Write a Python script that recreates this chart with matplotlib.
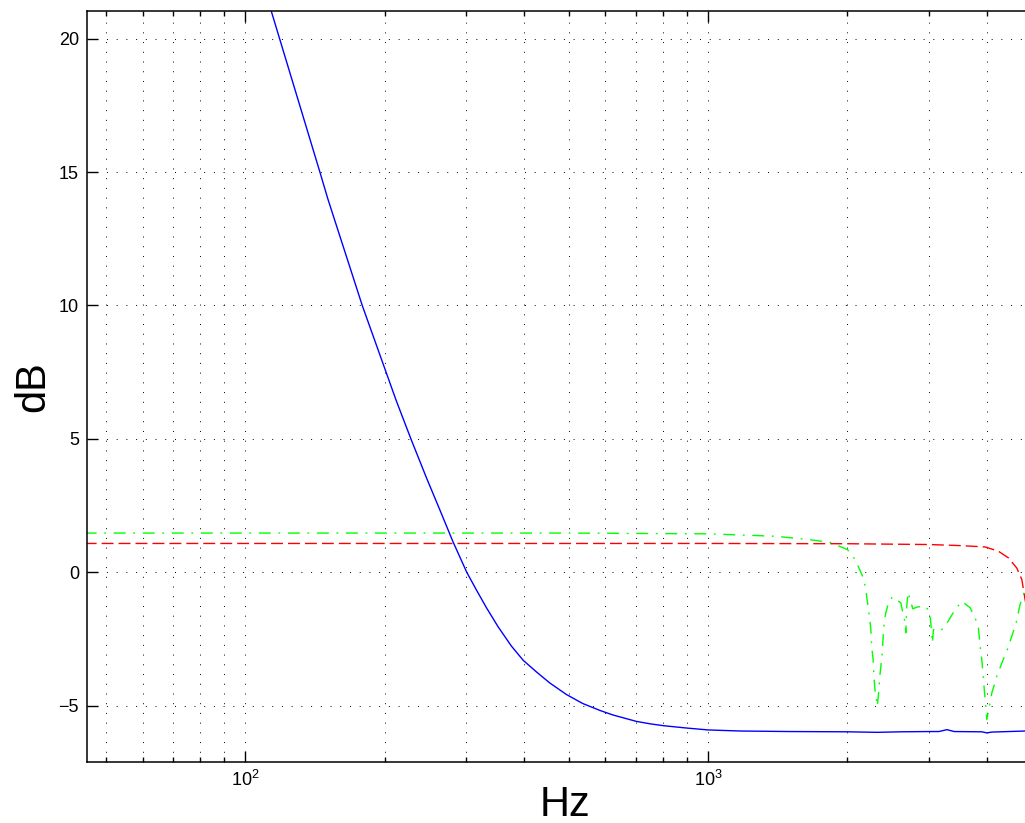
#!/usr/bin/env python3
# -*- coding: utf-8 -*-

import numpy as np
import matplotlib
matplotlib.use("Agg")
import matplotlib.pyplot as plt
from matplotlib.ticker import LogLocator, NullFormatter, FixedLocator

# blue: solid response (Hz, dB)
BLUE_HZ = [110, 114, 145, 151, 179, 212, 228, 246.5, 263, 281, 301, 316, 332, 352, 376, 398.6, 426, 455,
           494, 536, 584, 623, 700, 749, 800, 900, 1000, 1170, 1500, 2000, 2320, 2600, 3000, 3150,
           3280, 3400, 3900, 4000, 4100, 4850, 5400]
BLUE_DB = [21.9, 21.0, 15.0, 13.97, 10.0, 6.43, 5.0, 3.53, 2.36, 1.15, 0.0, -0.67, -1.33, -2.05, -2.77,
           -3.3, -3.74, -4.15, -4.58, -4.92, -5.18, -5.35, -5.59, -5.68, -5.75, -5.84, -5.91, -5.95,
           -5.97, -5.98, -6.0, -5.98, -5.97, -5.97, -5.9, -5.97, -5.98, -6.02, -5.99, -5.95, -5.95]

# red: dashed response
RED_HZ = [45, 500, 1000, 2000, 3000, 3500, 3966, 4236, 4453, 4642, 4760, 4838, 5000, 5400]
RED_DB = [1.08, 1.08, 1.08, 1.07, 1.04, 1.0, 0.95, 0.79, 0.54, 0.16, -0.27, -1.02, -2.3, -4.0]

# green: dash-dot response
GREEN_HZ = [45, 500, 1000, 1400, 1660, 1834, 2000, 2077, 2159, 2194, 2202, 2230, 2246, 2257, 2272, 2283,
            2295, 2321, 2333, 2353, 2376, 2391, 2399, 2420, 2451, 2501, 2608, 2634, 2665, 2673, 2687,
            2704, 2745, 2768, 2832, 2943, 3006, 3027, 3051, 3067, 3170, 3250, 3332, 3416, 3531, 3681,
            3774, 3836, 3869, 3901, 3933, 3966, 3999, 4052, 4101, 4203, 4309, 4418, 4528, 4626, 4719,
            4797, 4838, 5400]
GREEN_DB = [1.47, 1.47, 1.44, 1.35, 1.22, 1.12, 0.85, 0.48, -0.17, -0.65, -0.96, -1.65, -2.12, -2.83,
            -3.27, -4.02, -4.46, -5.02, -4.58, -3.77, -3.08, -2.27, -1.9, -1.52, -1.15, -0.92, -1.15,
            -1.52, -1.9, -2.27, -1.21, -0.75, -1.15, -1.37, -1.3, -1.27, -1.46, -1.9, -2.65, -2.15,
            -2.21, -2.02, -1.71, -1.4, -1.09, -1.33, -1.71, -2.08, -2.77, -3.27, -4.02, -4.77, -5.52,
            -5.02, -4.52, -3.9, -3.4, -2.96, -2.4, -1.9, -1.21, -0.84, -0.71, 0.2]

Y_TICKS = [-5, 0, 5, 10, 15, 20]
X_LIM = (45.6, 5290)
Y_LIM = (-7.1, 21.05)


def main():
    plt.rcParams["font.family"] = ["Liberation Sans", "DejaVu Sans"]
    plt.rcParams["mathtext.fontset"] = "custom"
    plt.rcParams["mathtext.rm"] = "Liberation Sans"
    plt.rcParams["mathtext.it"] = "Liberation Sans"
    plt.rcParams["lines.scale_dashes"] = False

    fig = plt.figure(figsize=(10.25, 8.23), dpi=100)
    ax = fig.add_axes([0.0852, 0.0745, 1.0176 - 0.0852, 0.987 - 0.0745])

    ax.plot(BLUE_HZ, BLUE_DB, color="#0000ff", lw=1.0, solid_joinstyle="round")
    ax.plot(RED_HZ, RED_DB, color="#ff0000", lw=1.0, dashes=(8.6, 3.6))
    ax.plot(GREEN_HZ, GREEN_DB, color="#00ff00", lw=1.0, dashes=(8.6, 5.5, 1.3, 5.5))

    ax.set_xscale("log")
    ax.set_xlim(*X_LIM)
    ax.set_ylim(*Y_LIM)
    ax.yaxis.set_major_locator(FixedLocator(Y_TICKS))
    ax.xaxis.set_major_locator(LogLocator(base=10))
    ax.xaxis.set_minor_locator(LogLocator(base=10, subs=np.arange(2, 10)))
    ax.xaxis.set_minor_formatter(NullFormatter())

    grid_kw = dict(color="k", lw=0.7, dashes=(0.7, 6.3))
    ax.grid(True, which="both", axis="x", **grid_kw)
    ax.grid(True, which="major", axis="y", **grid_kw)

    ax.tick_params(which="both", direction="in", top=True, right=True, labelsize=13, width=1.0)
    ax.tick_params(which="major", length=8, pad=6)
    ax.tick_params(which="minor", length=3.5)
    for s in ax.spines.values():
        s.set_linewidth(1.1)

    ax.set_xlabel("Hz", fontsize=30, labelpad=-4)
    ax.set_ylabel("dB", fontsize=30, labelpad=4)

    fig.savefig("out.png", dpi=100)
    plt.close(fig)


if __name__ == "__main__":
    main()
